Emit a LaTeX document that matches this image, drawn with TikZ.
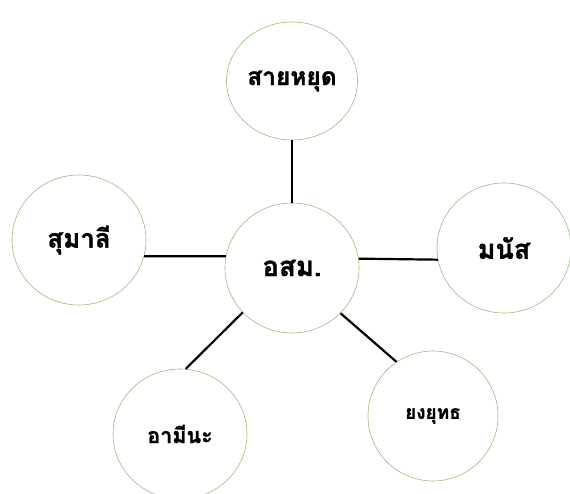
\documentclass[tikz,border=0pt]{standalone}
\usepackage{fontspec}
\newfontfamily\thaifont[Script=Thai, BoldFeatures={FakeBold=1.2}]{Loma}
\usetikzlibrary{shapes.geometric}
\definecolor{ringgreen}{RGB}{150,190,125}

\tikzset{
  ring/.style={ellipse, draw=ringgreen, line width=0.6pt, fill=white,
    inner sep=0pt, minimum width=134pt, minimum height=130pt,
    font=\thaifont\bfseries},
  spoke/.style={line width=2.2pt, black}
}

\begin{document}
\begin{tikzpicture}[x=1pt, y=-1pt]
\useasboundingbox (0,0) rectangle (570,494);

\node[ring, font=\thaifont\bfseries\fontsize{27.5}{30}\selectfont] (osm) at (292,268) {อสม.};
\node[ring, minimum width=131pt, minimum height=118pt,
  font=\thaifont\bfseries\fontsize{24.5}{28}\selectfont] (saihyud) at (292,81) {สายหยุด};
\node[ring, font=\thaifont\bfseries\fontsize{26}{29}\selectfont] (sumalee) at (79,240) {สุมาลี};
\node[ring, font=\thaifont\bfseries\fontsize{27}{30}\selectfont] (manat) at (504,248) {มนัส};
\node[ring, font=\thaifont\bfseries\fontsize{21.5}{24}\selectfont] (aminah) at (180,434) {อามีนะ};
\node[ring, minimum width=130pt,
  font=\thaifont\bfseries\fontsize{19}{22}\selectfont] (yongyut) at (433,416) {ยงยุทธ};

% spokes from the centre
\draw[spoke] (osm.90) -- (saihyud.270);
\draw[spoke] (osm.170) -- (sumalee.-14);
\draw[spoke] (osm.8) -- (manat.190);
\draw[spoke] (osm.222) -- (aminah.85);
\draw[spoke] (osm.-43) -- (yongyut.124);
\end{tikzpicture}
\end{document}
